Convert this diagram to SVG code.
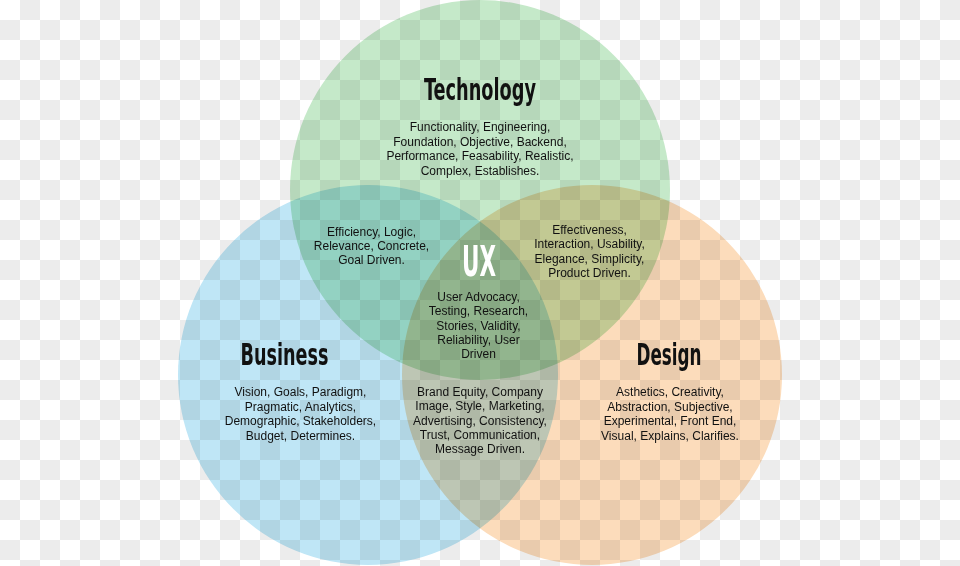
<svg xmlns="http://www.w3.org/2000/svg" width="960" height="566" viewBox="0 0 960 566">
<defs>
<pattern id="checker" x="0" y="0" width="40" height="40" patternUnits="userSpaceOnUse">
<rect width="40" height="40" fill="#ffffff"/>
<rect x="20" y="0" width="20" height="20" fill="#ececec"/>
<rect x="0" y="20" width="20" height="20" fill="#ececec"/>
</pattern>
<style>
.ring{mix-blend-mode:multiply}
.title{font-family:"DejaVu Sans Condensed","DejaVu Sans",sans-serif;font-weight:bold;font-size:31px;fill:#111;text-anchor:middle}
.body{font-family:"Liberation Sans",Arial,sans-serif;font-size:12px;fill:#111;text-anchor:middle}
.ux{font-family:"DejaVu Sans Condensed","DejaVu Sans",sans-serif;font-weight:bold;font-size:42px;fill:#ffffff;text-anchor:middle}
</style>
</defs>
<rect width="960" height="566" fill="url(#checker)"/>
<g id="business">
<circle class="ring" cx="368" cy="375" r="190" fill="#bfe6f6"/>
</g>
<g id="design">
<circle class="ring" cx="592" cy="375" r="190" fill="#fcdcbb"/>
</g>
<g id="technology">
<circle class="ring" cx="480" cy="190" r="190" fill="#c5e9c9"/>
</g>
<g id="technology-text">
<text class="title" x="480" y="100" textLength="112" lengthAdjust="spacingAndGlyphs">Technology</text>
<text class="body" x="480" y="131">Functionality, Engineering,</text>
<text class="body" x="480" y="145.5">Foundation, Objective, Backend,</text>
<text class="body" x="480" y="160">Performance, Feasability, Realistic,</text>
<text class="body" x="480" y="174.5">Complex, Establishes.</text>
</g>
<g id="business-text">
<text class="title" x="284.5" y="365" textLength="88" lengthAdjust="spacingAndGlyphs">Business</text>
<text class="body" x="300.5" y="396">Vision, Goals, Paradigm,</text>
<text class="body" x="300.5" y="410.5">Pragmatic, Analytics,</text>
<text class="body" x="300.5" y="425">Demographic, Stakeholders,</text>
<text class="body" x="300.5" y="439.5">Budget, Determines.</text>
</g>
<g id="design-text">
<text class="title" x="669" y="365" textLength="65" lengthAdjust="spacingAndGlyphs">Design</text>
<text class="body" x="670" y="396">Asthetics, Creativity,</text>
<text class="body" x="670" y="410.5">Abstraction, Subjective,</text>
<text class="body" x="670" y="425">Experimental, Front End,</text>
<text class="body" x="670" y="439.5">Visual, Explains, Clarifies.</text>
</g>
<g id="tech-business">
<text class="body" x="371.5" y="235.5">Efficiency, Logic,</text>
<text class="body" x="371.5" y="249.5">Relevance, Concrete,</text>
<text class="body" x="371.5" y="263.5">Goal Driven.</text>
</g>
<g id="tech-design">
<text class="body" x="589.5" y="234">Effectiveness,</text>
<text class="body" x="589.5" y="248">Interaction, Usability,</text>
<text class="body" x="589.5" y="262.5">Elegance, Simplicity,</text>
<text class="body" x="589.5" y="276.5">Product Driven.</text>
</g>
<g id="business-design">
<text class="body" x="480" y="396">Brand Equity, Company</text>
<text class="body" x="480" y="410">Image, Style, Marketing,</text>
<text class="body" x="480" y="424.5">Advertising, Consistency,</text>
<text class="body" x="480" y="439">Trust, Communication,</text>
<text class="body" x="480" y="453">Message Driven.</text>
</g>
<g id="ux">
<text class="ux" x="479" y="276" textLength="34" lengthAdjust="spacingAndGlyphs">UX</text>
<text class="body" x="478.5" y="301">User Advocacy,</text>
<text class="body" x="478.5" y="315">Testing, Research,</text>
<text class="body" x="478.5" y="329.5">Stories, Validity,</text>
<text class="body" x="478.5" y="343.5">Reliability, User</text>
<text class="body" x="478.5" y="357.5">Driven</text>
</g>
<g id="connectors"/>
</svg>
